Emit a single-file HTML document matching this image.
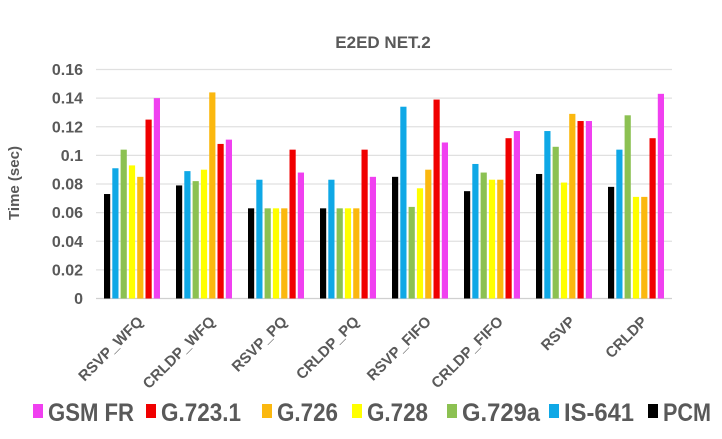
<!DOCTYPE html>
<html><head><meta charset="utf-8"><style>
body{margin:0;background:#fff;}
svg text{font-family:"Liberation Sans",sans-serif;font-weight:bold;fill:#595959;}
</style></head><body>
<svg width="722" height="434" xmlns="http://www.w3.org/2000/svg">
<text x="383" y="48" text-anchor="middle" font-size="17">E2ED NET.2</text>
<text transform="translate(19,183) rotate(-90)" text-anchor="middle" font-size="15">Time (sec)</text>
<g id="grid"></g><g id="bars"></g><g id="xl"></g><g id="legend"></g>
</svg>
<script>
const categories=["RSVP_WFQ","CRLDP_WFQ","RSVP_PQ","CRLDP_PQ","RSVP_FIFO","CRLDP_FIFO","RSVP","CRLDP"];
const seriesNames=["PCM","IS-641","G.729a","G.728","G.726","G.723.1","GSM FR"];
const pcm=[0.073,0.079,0.063,0.063,0.085,0.075,0.087,0.078];
const is641=[0.091,0.089,0.083,0.083,0.134,0.094,0.117,0.104];
const g729a=[0.104,0.082,0.063,0.063,0.064,0.088,0.106,0.128];
const g728=[0.093,0.090,0.063,0.063,0.077,0.083,0.081,0.071];
const g726=[0.085,0.144,0.063,0.063,0.090,0.083,0.129,0.071];
const g7231=[0.125,0.108,0.104,0.104,0.139,0.112,0.124,0.112];
const gsmfr=[0.140,0.111,0.088,0.085,0.109,0.117,0.124,0.143];
const yTicks=[0,0.02,0.04,0.06,0.08,0.1,0.12,0.14,0.16];
const yTickLabels=["0","0.02","0.04","0.06","0.08","0.1","0.12","0.14","0.16"];
const series=[pcm,is641,g729a,g728,g726,g7231,gsmfr];
const colors=["#000000","#0fa8e6","#8cc152","#ffff00","#fbb80f","#f00000","#f040f0"];
const NS="http://www.w3.org/2000/svg";
const L=96,R=672,T=69.5,B=298.5;
const y=v=>B-(v/0.16)*(B-T);
const gw=(R-L)/categories.length;
const gx=i=>L+gw*i+gw/2;
function mk(t,a,p){const e=document.createElementNS(NS,t);for(const k in a)e.setAttribute(k,a[k]);p.appendChild(e);return e;}
const grid=document.getElementById('grid');
yTicks.forEach((v,i)=>{
 const l=mk('line',{x1:L,x2:R,y1:y(v),y2:y(v),stroke:i==0?'#d0d0d0':'#e0e0e0','stroke-width':1.3},grid);
 
 
 const t=mk('text',{x:83,y:y(v)+5.5,'text-anchor':'end','font-size':16},grid);
 t.textContent=yTickLabels[i];
 
 
});
const bars=document.getElementById('bars');
const bw=6.2,pitch=8.3;
series.forEach((s,si)=>{
 s.forEach((v,ci)=>{
  const x=gx(ci)-pitch*3.5+pitch*si+(pitch-bw)/2;
  const r=mk('rect',{x:x,y:y(v),width:bw,height:B-y(v),fill:colors[si]},bars);
  
  
 });
});
const xl=document.getElementById('xl');
categories.forEach((c,i)=>{
 const t=mk('text',{transform:`translate(${gx(i)+12},${B+24}) rotate(-45)`,'text-anchor':'end','font-size':15},xl);
 t.textContent=c;
 
 
});
const lg=document.getElementById('legend');
const legOrder=[6,5,4,3,2,1,0];
const legX=[33,146,262,352,447,549,648];
const legW=[86,80,61,61,78,70,48];
legOrder.forEach((si,k)=>{
 const g=mk('g',{},lg);
 
 
 mk('rect',{x:legX[k],y:404,width:10,height:14,fill:colors[si]},g);
 const t=mk('text',{x:legX[k]+15,y:421,'font-size':25,textLength:legW[k],lengthAdjust:'spacingAndGlyphs'},g);
 t.textContent=seriesNames[si];
});
</script>
</body></html>
